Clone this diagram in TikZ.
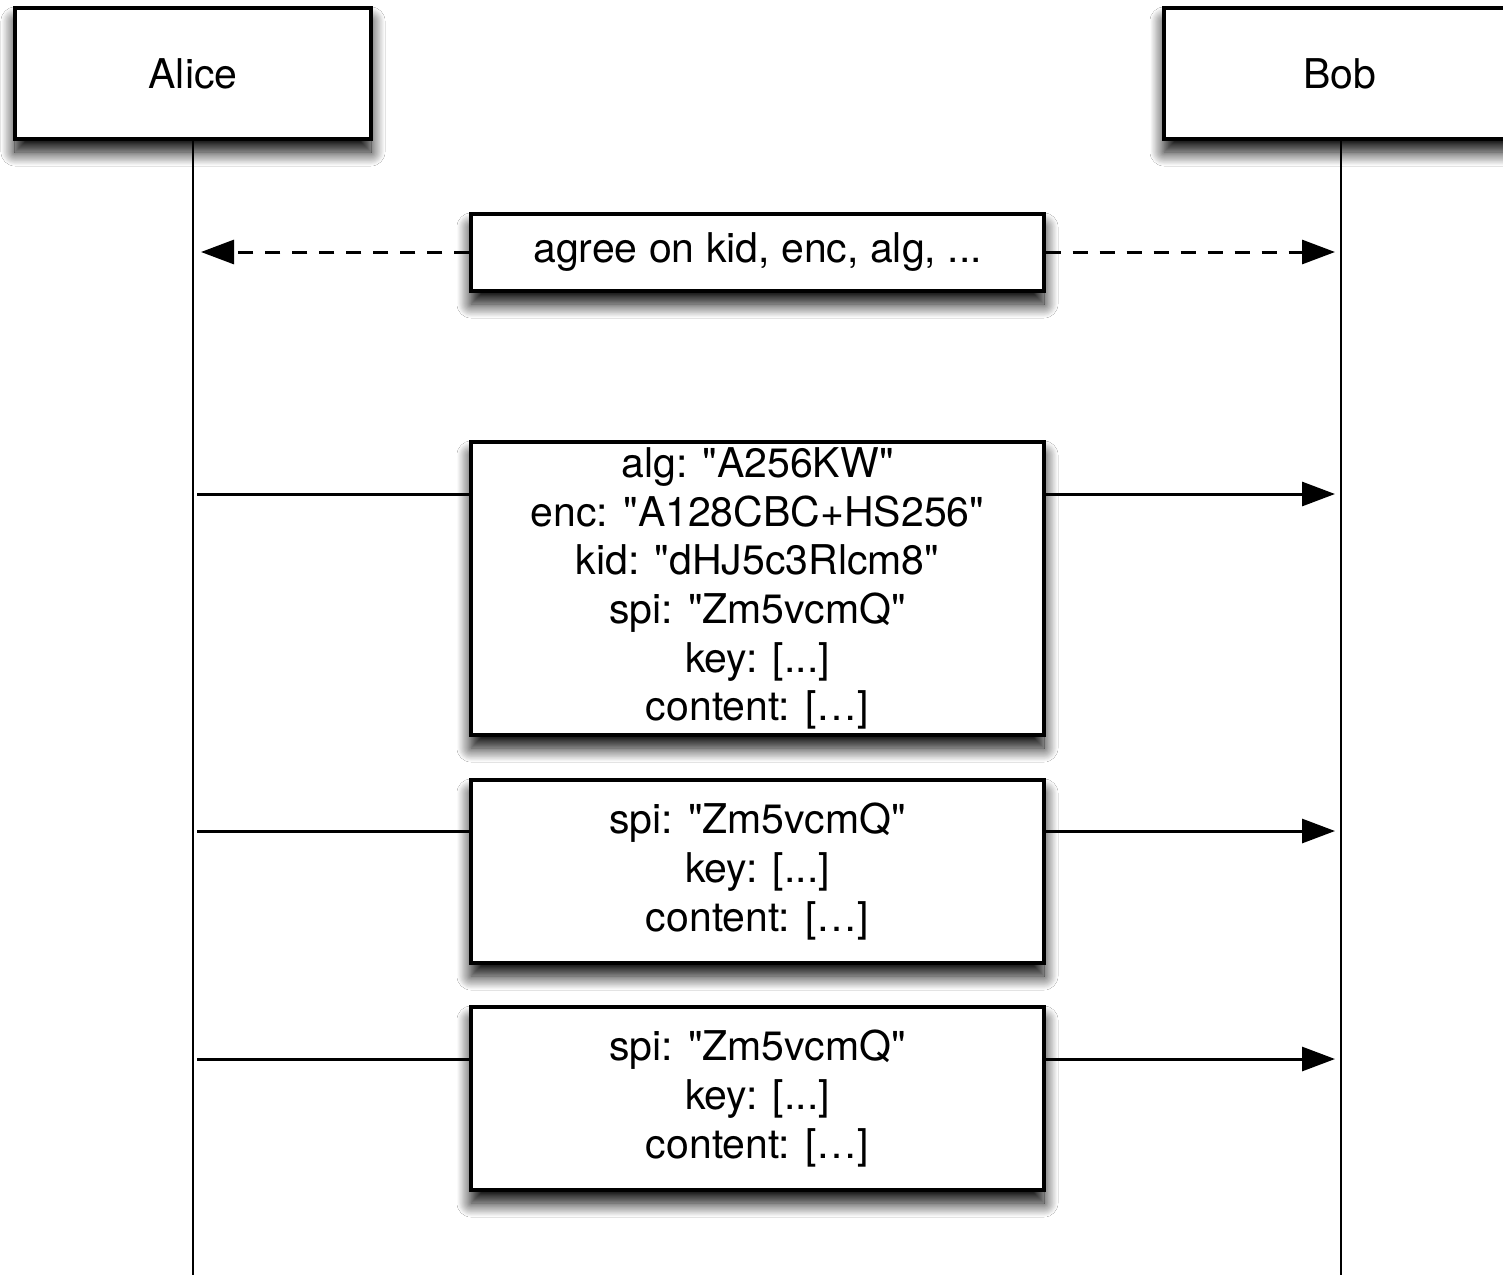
\documentclass[tikz,border=0pt]{standalone}
\usepackage{fontspec}
\setmainfont{TeX Gyre Heros}[Ligatures=TeXOff]
\usetikzlibrary{arrows.meta,shadows.blur}
\tikzset{
  boxstyle/.style={draw=black, line width=3.4pt, fill=white, inner sep=0pt, align=center,
    font=\fontsize{41}{48.6}\selectfont,
    blur shadow={shadow xshift=0pt, shadow yshift=-13pt, shadow blur radius=14pt, shadow opacity=100, shadow blur steps=20}},
  lifeline/.style={line width=2.6pt},
  msg/.style={line width=3pt},
  tip/.style={-{Triangle[length=33pt,width=24pt]}},
  dashmsg/.style={msg, dash pattern=on 15pt off 12pt}
}
\begin{document}
\begin{tikzpicture}[x=1pt,y=-1pt]
\clip (0,0) rectangle (1503,1275);
\fill[white] (0,0) rectangle (1503,1275);
% lifelines
\coordinate (aliceEnd) at (193,1275);
\coordinate (bobEnd) at (1341,1275);
\node[boxstyle, minimum width=356pt, minimum height=131pt] (alice) at (193,73.5) {Alice};
\node[boxstyle, minimum width=352pt, minimum height=131pt] (bob) at (1340,73.5) {Bob};
\draw[lifeline] (alice.south) -- (aliceEnd);
\draw[lifeline] (bob.south -| bobEnd) -- (bobEnd);
% message anchors
\coordinate (a1) at (201,252);  \coordinate (b1) at (1335,252);
\coordinate (a2) at (197,494);  \coordinate (b2) at (1335,494);
\coordinate (a3) at (197,831);  \coordinate (b3) at (1335,831);
\coordinate (a4) at (197,1059); \coordinate (b4) at (1335,1059);
% boxes
\node[boxstyle, minimum width=573pt, minimum height=77pt] (m1) at (757.5,252.5) {agree on kid, enc, alg, ...};
\node[boxstyle, minimum width=573pt, minimum height=293pt] (m2) at (757.5,588.5)
  {alg: "A256KW"\\enc: "A128CBC+HS256"\\kid: "dHJ5c3Rlcm8"\\spi: "Zm5vcmQ"\\key: [...]\\content: […]};
\node[boxstyle, minimum width=573pt, minimum height=183pt] (m3) at (757.5,871.5)
  {spi: "Zm5vcmQ"\\key: [...]\\content: […]};
\node[boxstyle, minimum width=573pt, minimum height=183pt] (m4) at (757.5,1098.5)
  {spi: "Zm5vcmQ"\\key: [...]\\content: […]};
% connectors
\draw[dashmsg, tip] (m1.west |- a1) -- (a1);
\draw[dashmsg, tip] (m1.east |- b1) -- (b1);
\draw[msg] (a2) -- (m2.west |- a2);
\draw[msg, tip] (m2.east |- b2) -- (b2);
\draw[msg] (a3) -- (m3.west |- a3);
\draw[msg, tip] (m3.east |- b3) -- (b3);
\draw[msg] (a4) -- (m4.west |- a4);
\draw[msg, tip] (m4.east |- b4) -- (b4);
\end{tikzpicture}
\end{document}
